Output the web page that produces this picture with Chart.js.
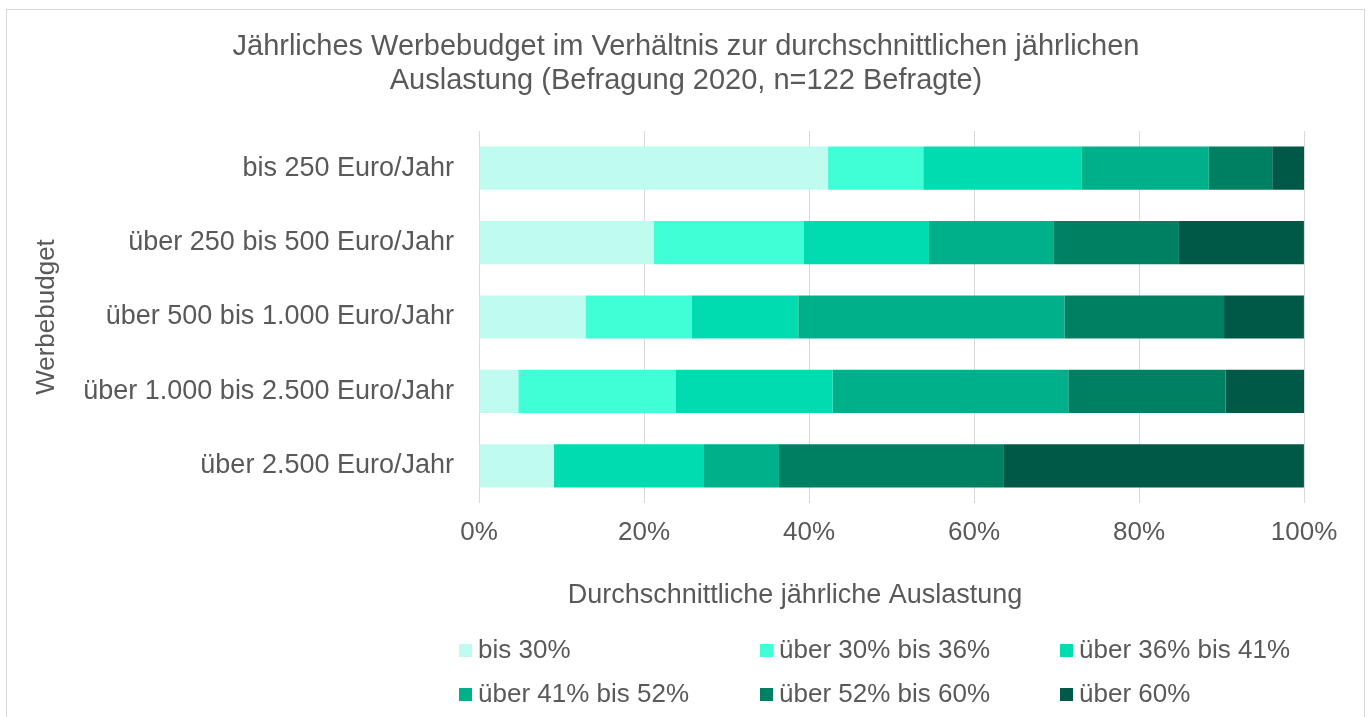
<!DOCTYPE html>
<html lang="de">
<head>
<meta charset="utf-8">
<title>Werbebudget und Auslastung</title>
<script src="https://cdn.jsdelivr.net/npm/chart.js@4/dist/chart.umd.min.js"></script>
<style>
    html, body { margin: 0; padding: 0; background: #fff; }
    #wrap { position: relative; width: 1371px; height: 717px; overflow: hidden; }
    #frame { position: absolute; left: 6px; top: 9px; width: 1359px; height: 760px; border: 1px solid #d9d9d9; box-sizing: border-box; }
    canvas { position: absolute; left: 0; top: 0; }
</style>
</head>
<body>
<div id="wrap">
    <div id="frame"></div>
    <canvas id="chart" width="1371" height="717"></canvas>
</div>
<script>
// Werbebudget-Klassen (y-Achse)
const budgets = [
    'bis 250 Euro/Jahr',
    'über 250 bis 500 Euro/Jahr',
    'über 500 bis 1.000 Euro/Jahr',
    'über 1.000 bis 2.500 Euro/Jahr',
    'über 2.500 Euro/Jahr'
];

// Auslastungsklassen (Legende)
const auslastung = [
    'bis 30%',
    'über 30% bis 36%',
    'über 36% bis 41%',
    'über 41% bis 52%',
    'über 52% bis 60%',
    'über 60%'
];

// Anteile in Prozent je Budgetklasse
const bis30 = [42.31, 21.21, 12.90, 4.76, 9.09];
const von30bis36 = [11.54, 18.18, 12.90, 19.05, 0];
const von36bis41 = [19.23, 15.15, 12.90, 19.05, 18.18];
const von41bis52 = [15.38, 15.15, 32.26, 28.57, 9.09];
const von52bis60 = [7.69, 15.15, 19.35, 19.05, 27.27];
const ueber60 = [3.85, 15.15, 9.68, 9.52, 36.36];

const xTicks = [0, 20, 40, 60, 80, 100];

const titleLines = [
    'Jährliches Werbebudget im Verhältnis zur durchschnittlichen jährlichen',
    'Auslastung (Befragung 2020, n=122 Befragte)'
];
const xTitle = 'Durchschnittliche jährliche Auslastung';

const colors = ['#bffcef', '#40ffd6', '#00dcaf', '#00b08a', '#008063', '#005846'];
const textColor = '#595959';
const fontFamily = '"Liberation Sans", Arial, sans-serif';

const series = [bis30, von30bis36, von36bis41, von41bis52, von52bis60, ueber60];

// Diagrammtitel (über die ganze Breite zentriert) und Titel der x-Achse
const headings = {
    id: 'headings',
    afterDraw(chart) {
        const ctx = chart.ctx;
        ctx.save();
        ctx.fillStyle = textColor;
        ctx.textAlign = 'center';
        ctx.textBaseline = 'middle';
        ctx.font = '29px ' + fontFamily;
        titleLines.forEach((line, i) => ctx.fillText(line, 686, 47 + i * 34));
        ctx.font = '27px ' + fontFamily;
        ctx.fillText(xTitle, 795, 596);
        ctx.restore();
    }
};

// Legende in drei Spalten, zwei Zeilen
const gridLegend = {
    id: 'gridLegend',
    afterDraw(chart) {
        const ctx = chart.ctx;
        const colX = [459, 760, 1060];
        const rowY = [651, 695];
        ctx.save();
        ctx.font = '26px ' + fontFamily;
        ctx.textBaseline = 'middle';
        ctx.textAlign = 'left';
        chart.data.datasets.forEach((ds, i) => {
            const x = colX[i % 3];
            const y = rowY[Math.floor(i / 3)];
            ctx.fillStyle = ds.backgroundColor;
            ctx.fillRect(x, y - 7, 13, 13);
            ctx.fillStyle = textColor;
            ctx.fillText(ds.label, x + 19, y);
        });
        ctx.restore();
    }
};

new Chart(document.getElementById('chart'), {
    type: 'bar',
    data: {
        labels: budgets,
        datasets: auslastung.map((label, i) => ({
            label: label,
            data: series[i],
            backgroundColor: colors[i],
            borderWidth: 0,
            barPercentage: 0.58,
            categoryPercentage: 1
        }))
    },
    options: {
        indexAxis: 'y',
        responsive: false,
        animation: false,
        layout: { padding: { top: 131, left: 27, right: 67, bottom: 105 } },
        plugins: {
            legend: { display: false },
            tooltip: { enabled: false },
            title: { display: false }
        },
        scales: {
            x: {
                stacked: true,
                min: 0,
                max: 100,
                afterBuildTicks(scale) {
                    scale.ticks = xTicks.map(v => ({ value: v }));
                },
                afterFit(scale) { scale.height = 109; },
                ticks: {
                    color: textColor,
                    padding: 14,
                    font: { family: fontFamily, size: 26 },
                    callback: v => v + '%'
                },
                grid: { color: '#d9d9d9', lineWidth: 1, drawTicks: false },
                border: { display: false }
            },
            y: {
                stacked: true,
                afterFit(scale) { scale.width = 452; },
                ticks: {
                    color: textColor,
                    padding: 25,
                    font: { family: fontFamily, size: 27 }
                },
                grid: { display: false, drawTicks: false },
                border: { display: false },
                title: {
                    display: true,
                    text: 'Werbebudget',
                    color: textColor,
                    font: { family: fontFamily, size: 26 },
                    padding: { top: 4, bottom: 4 }
                }
            }
        }
    },
    plugins: [headings, gridLegend]
});
</script>
</body>
</html>
